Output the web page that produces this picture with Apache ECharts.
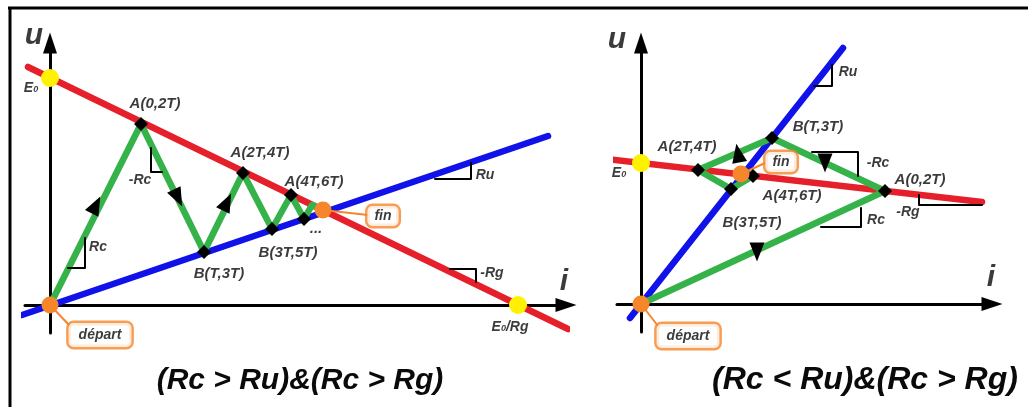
<!DOCTYPE html>
<html>
<head>
<meta charset="utf-8">
<script src="https://cdn.jsdelivr.net/npm/echarts@6/dist/echarts.min.js"></script>
<style>
  html, body { margin: 0; padding: 0; background: #fff; }
  #chart { width: 1028px; height: 407px; }
</style>
</head>
<body>
<div id="chart"></div>
<script>
// ---- Left diagram: (Rc > Ru) & (Rc > Rg), values in (i, u) units ----
const leftGenerator = [[-22, 238], [518, -24]];          // u = E0 - Rg·i
const leftLoad = [[-28, -10], [498, 169]];               // u = Ru·i
const leftPath = [[0, 0], [91, 181], [154, 53], [193, 132], [222, 76], [241, 110], [254, 86], [262, 100], [273, 95]];
const leftPoints = [[91, 181], [154, 53], [193, 132], [222, 76], [241, 110], [254, 86]];
const leftE0 = [[0, 227], [468, 0]];                     // E0 and E0/Rg
const leftStartEnd = [[0, 0], [273, 95]];                // départ, fin
const leftArrows = [[46, 100], [128, 107], [177, 103]];
const leftSlopeRc = [[18, 37], [35, 37], [35, 67]];
const leftSlopeMinusRc = [[101, 157], [101, 133], [112, 133]];
const leftSlopeRu = [[385, 126], [421, 126], [421, 142]];
const leftSlopeMinusRg = [[400, 36], [426, 36], [426, 23]];

// ---- Right diagram: (Rc < Ru) & (Rc > Rg) ----
const rightGenerator = [[-31, 144.5], [341, 102]];
const rightLoad = [[-11, -14], [202, 256]];
const rightPath = [[0, 0], [244, 113], [131, 166], [57, 134], [90, 115], [112, 128]];
const rightPoints = [[244, 113], [131, 166], [57, 134], [90, 115], [112, 128]];
const rightE0 = [[0, 141]];
const rightStartEnd = [[0, 0], [100, 130]];
const rightArrows = [[116, 52], [184, 141], [97, 151]];
const rightSlopeRu = [[173, 218], [191, 218], [191, 239]];
const rightSlopeMinusRc = [[171, 152], [217, 152], [217, 128]];
const rightSlopeRc = [[180, 77], [220, 77], [220, 96]];
const rightSlopeMinusRg = [[278, 109], [278, 99], [341, 99]];

// arrowhead headings (degrees, counter-clockwise from "up")
const leftArrowTurn = [-27, 206, -26];
const rightArrowTurn = [180, 180, 10];

// text annotations: [text, i, u, kind]
const leftNotes = [
  ['u', -16, 269, 'axis'], ['i', 514, 23, 'axis'],
  ['{e|E}{s|0}', -19, 217, 'pt'],
  ['A(0,2T)', 105, 201, 'pt'], ['A(2T,4T)', 210, 152, 'pt'], ['A(4T,6T)', 264, 123, 'pt'],
  ['B(T,3T)', 169, 31, 'pt'], ['B(3T,5T)', 238, 52, 'pt'], ['...', 266, 76, 'pt'],
  ['Rc', 48, 58, 'slope'], ['-Rc', 90, 125, 'slope'], ['Ru', 435, 130, 'slope'], ['-Rg', 442, 32, 'slope'],
  ['{e|E}{s|0}{e|/Rg}', 460, -22, 'pt']
];
const rightNotes = [
  ['u', -24, 264, 'axis'], ['i', 350, 26, 'axis'],
  ['{e|E}{s|0}', -22, 131, 'pt'],
  ['A(2T,4T)', 46, 157, 'pt'], ['B(T,3T)', 177, 177, 'pt'], ['A(0,2T)', 279, 124, 'pt'],
  ['A(4T,6T)', 151, 108, 'pt'], ['B(3T,5T)', 111, 81, 'pt'],
  ['Ru', 207, 232, 'slope'], ['-Rc', 237, 141, 'slope'], ['Rc', 235, 84, 'slope'], ['-Rg', 267, 92, 'slope']
];
// boxed tags: [text, i, u]
const leftTags = [['fin', 333, 89], ['départ', 50, -30]];
const rightTags = [['fin', 140, 142], ['départ', 47, -32]];
// tag leader lines (from point to tag edge)
const leftLeaders = [[[273, 95], [318, 90]], [[0, 0], [20, -21]]];
const rightLeaders = [[[100, 130], [124, 141]], [[0, 0], [17, -22]]];

const titles = ['(Rc > Ru)&(Rc > Rg)', '(Rc < Ru)&(Rc > Rg)'];

const FONT = '"Liberation Sans", Arial, sans-serif';
const COL = { red: '#e6202a', blue: '#1111ea', green: '#35b34a', orange: '#f5862c', yellow: '#fff200', ink: '#0a0a0a' };

function line(g, data, color, width, z) {
  return {
    type: 'line', xAxisIndex: g, yAxisIndex: g, data, symbol: 'none', clip: false,
    silent: true, animation: false, z,
    lineStyle: { color, width, cap: 'round', join: 'round' }
  };
}
function dots(g, data, symbol, size, color, z, turns) {
  return {
    type: 'scatter', xAxisIndex: g, yAxisIndex: g, clip: false, silent: true, animation: false, z,
    symbol, symbolSize: size, itemStyle: { color, opacity: 1 },
    data: data.map((d, k) => turns ? { value: d, symbolRotate: turns[k] } : d)
  };
}
const kinds = {
  axis: { fontSize: 30 },
  pt: { fontSize: 15 },
  slope: { fontSize: 14 }
};
function notes(g, items) {
  return {
    type: 'scatter', xAxisIndex: g, yAxisIndex: g, clip: false, silent: true, animation: false, z: 10,
    symbol: 'circle', symbolSize: 0,
    data: items.map(([t, x, y, k]) => ({
      value: [x, y],
      label: {
        show: true, position: 'inside', formatter: t, color: COL.ink,
        fontFamily: FONT, fontWeight: 'bold', fontStyle: 'italic', fontSize: kinds[k].fontSize,
        rich: {
          e: { fontFamily: FONT, fontWeight: 'bold', fontStyle: 'italic', fontSize: 14, color: COL.ink },
          s: { fontFamily: FONT, fontWeight: 'bold', fontStyle: 'italic', fontSize: 9, color: COL.ink, padding: [4, 0, 0, 0] }
        }
      }
    }))
  };
}
function tags(g, items) {
  return {
    type: 'scatter', xAxisIndex: g, yAxisIndex: g, clip: false, silent: true, animation: false, z: 12,
    symbol: 'circle', symbolSize: 0,
    data: items.map(([t, x, y]) => ({
      value: [x, y],
      label: {
        show: true, position: 'inside', formatter: t, color: COL.ink,
        fontFamily: FONT, fontWeight: 'bold', fontStyle: 'italic', fontSize: 14, lineHeight: 16,
        backgroundColor: '#fff', borderColor: COL.orange, borderWidth: 2.5, borderRadius: 5,
        padding: t === 'fin' ? [2, 7] : [4, 10]
      }
    }))
  };
}

const axisCommon = {
  type: 'value',
  axisLine: { show: true, onZero: true, symbol: ['none', 'triangle'], symbolSize: [14, 21],
              lineStyle: { color: '#000', width: 3 } },
  axisTick: { show: false }, axisLabel: { show: false }, splitLine: { show: false }
};

const series = [];
[
  { g: 0, gen: leftGenerator, load: leftLoad, path: leftPath, pts: leftPoints, e0: leftE0, se: leftStartEnd,
    arrows: leftArrows, turns: leftArrowTurn,
    slopes: [leftSlopeRc, leftSlopeMinusRc, leftSlopeRu, leftSlopeMinusRg],
    notes: leftNotes, tags: leftTags, leaders: leftLeaders },
  { g: 1, gen: rightGenerator, load: rightLoad, path: rightPath, pts: rightPoints, e0: rightE0, se: rightStartEnd,
    arrows: rightArrows, turns: rightArrowTurn,
    slopes: [rightSlopeRu, rightSlopeMinusRc, rightSlopeRc, rightSlopeMinusRg],
    notes: rightNotes, tags: rightTags, leaders: rightLeaders }
].forEach(p => {
  series.push(line(p.g, p.load, COL.blue, 6.5, 3));
  series.push(line(p.g, p.gen, COL.red, 6.5, 3));
  series.push(line(p.g, p.path, COL.green, 6.5, 4));
  p.slopes.forEach(s => series.push(line(p.g, s, '#000', 2, 5)));
  p.leaders.forEach(s => series.push(line(p.g, s, COL.orange, 2, 5)));
  series.push(dots(p.g, p.arrows, 'triangle', [15, 19], '#000', 6, p.turns));
  series.push(dots(p.g, p.pts, 'diamond', 14, '#000', 7));
  series.push(dots(p.g, p.e0, 'circle', 18, COL.yellow, 8));
  series.push(dots(p.g, p.se, 'circle', 17, COL.orange, 8));
  series.push(notes(p.g, p.notes));
  series.push(tags(p.g, p.tags));
});

const chart = echarts.init(document.getElementById('chart'), null, { renderer: 'canvas' });
chart.setOption({
  animation: false,
  backgroundColor: '#fff',
  grid: [
    { left: 25, top: 43, width: 541, height: 290, outerBoundsMode: 'none' },
    { left: 617, top: 43, width: 375, height: 289, outerBoundsMode: 'none' }
  ],
  xAxis: [
    Object.assign({ gridIndex: 0, min: -25, max: 516 }, axisCommon),
    Object.assign({ gridIndex: 1, min: -24, max: 351 }, axisCommon)
  ],
  yAxis: [
    Object.assign({ gridIndex: 0, min: -28, max: 262 }, axisCommon),
    Object.assign({ gridIndex: 1, min: -28, max: 261 }, axisCommon)
  ],
  graphic: [
    { type: 'line', shape: { x1: 8, y1: 8, x2: 1028, y2: 8 }, style: { stroke: '#000', lineWidth: 3 } },
    { type: 'line', shape: { x1: 10, y1: 7, x2: 10, y2: 407 }, style: { stroke: '#000', lineWidth: 3 } },
    { type: 'text', x: 300, y: 381, style: { text: titles[0], font: 'italic bold 30px ' + FONT, fill: COL.ink, align: 'center', verticalAlign: 'middle' } },
    { type: 'text', x: 865, y: 380, style: { text: titles[1], font: 'italic bold 32px ' + FONT, fill: COL.ink, align: 'center', verticalAlign: 'middle' } }
  ],
  series
});
</script>
</body>
</html>
